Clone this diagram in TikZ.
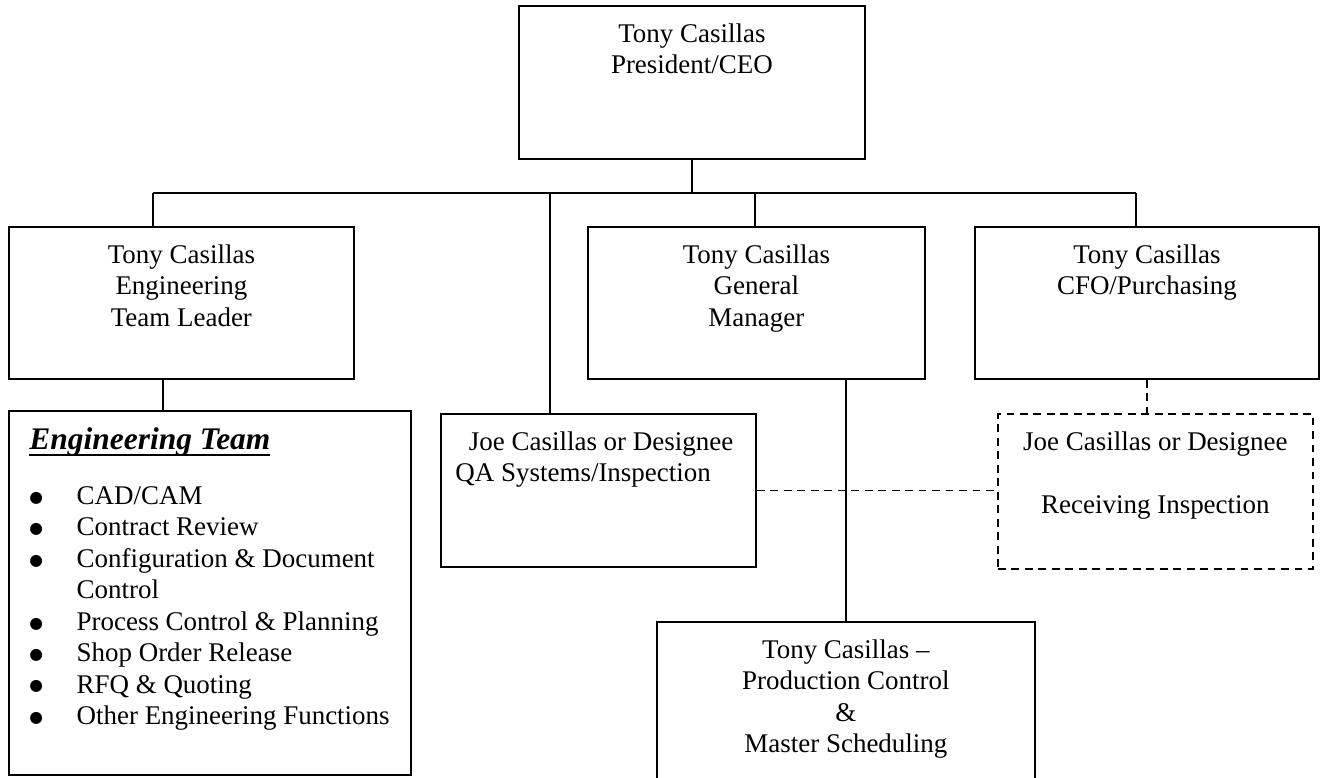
\documentclass[tikz,border=0pt]{standalone}
\usepackage{fontspec}
\setmainfont{Liberation Serif}
\newfontfamily\bulfont{DejaVu Sans}
\usetikzlibrary{positioning}

\newcommand{\bigbul}{\raisebox{1pt}{\bulfont\fontsize{7}{14}\selectfont ●}}
\newcommand{\thickul}[1]{\setbox0=\hbox{#1}\leavevmode\rlap{\rule[-3pt]{\wd0}{1pt}}\box0}

\tikzset{
  box/.style 2 args={draw, line width=0.8pt, anchor=north west, inner sep=0pt,
    minimum width=#1*0.445pt, minimum height=#2*0.445pt},
  dbox/.style 2 args={box={#1}{#2}, dash pattern=on 3.5pt off 2.5pt},
  txt/.style={font=\fontsize{12}{14}\selectfont, align=center, inner sep=0pt},
  link/.style={line width=0.8pt},
  dlink/.style={line width=0.8pt, dash pattern=on 3.5pt off 2.5pt}
}

\begin{document}
\begin{tikzpicture}[x=0.445pt, y=-0.445pt]
\useasboundingbox (0,0) rectangle (1322,777);

% boxes
\node[box={346}{153}] (ceo) at (518,5) {};
\node[box={345}{152}] (lead) at (8,226) {};
\node[box={337}{152}] (gm) at (587,226) {};
\node[box={344}{152}] (cfo) at (974,226) {};
\node[box={402}{364}] (team) at (8,410) {};
\node[box={315}{153}] (qa) at (440,413) {};
\node[dbox={315}{155}] (rcv) at (997,413) {};
\node[box={378}{190}] (prod) at (656,621) {};

% texts
\node[txt, below=8pt of ceo.north] (ceot) {Tony Casillas\\President/CEO};
\node[txt, below=8pt of lead.north] (leadt) {Tony Casillas\\Engineering\\Team Leader};
\node[txt, below=8pt of gm.north] (gmt) {Tony Casillas\\General\\Manager};
\node[txt, below=8pt of cfo.north] (cfot) {Tony Casillas\\CFO/Purchasing};
\node[txt, align=left, anchor=north west] (qat) at (455,431)
  {\hspace{6pt}Joe Casillas or Designee\\QA Systems/Inspection};
\node[txt, below=8pt of rcv.north] (rcvt)
  {Joe Casillas or Designee\\[14pt]Receiving Inspection};
\node[txt, below=8pt of prod.north] (prodt)
  {Tony Casillas --\\Production Control\\\&\\Master Scheduling};
\node[inner sep=0pt, anchor=west] (teamhd) at (29,442)
  {\fontsize{14}{16}\selectfont\bfseries\itshape\thickul{Engineering Team}};
\node[txt, anchor=north west, align=left] (teaml) at (29,482)
  {\begin{tabular}{@{}p{21pt}@{}l@{}}
   \bigbul & CAD/CAM\\
   \bigbul & Contract Review\\
   \bigbul & Configuration \& Document\\
           & Control\\
   \bigbul & Process Control \& Planning\\
   \bigbul & Shop Order Release\\
   \bigbul & RFQ \& Quoting\\
   \bigbul & Other Engineering Functions
   \end{tabular}};

% lines
\coordinate (j1) at (153,193);
\coordinate (j2) at (550,193);
\coordinate (j3) at (755,193);
\coordinate (j4) at (1136,193);
\coordinate (j5) at (163,378);
\draw[link] (j1) -- (j4);
\draw[link] (ceo.south) -- (ceo.south |- j1);
\draw[link] (j1) -- (j1 |- lead.north);
\draw[link] (j2) -- (j2 |- qa.north);
\draw[link] (j3) -- (j3 |- gm.north);
\draw[link] (j4) -- (j4 |- cfo.north);
\draw[link] (j5) -- (j5 |- team.north);
\draw[link] (prod.north) -- (prod.north |- gm.south);
\draw[dlink] (cfo.south) -- (cfo.south |- rcv.north);
\draw[dlink] (qa.east) -- (qa.east -| rcv.west);
\end{tikzpicture}
\end{document}
